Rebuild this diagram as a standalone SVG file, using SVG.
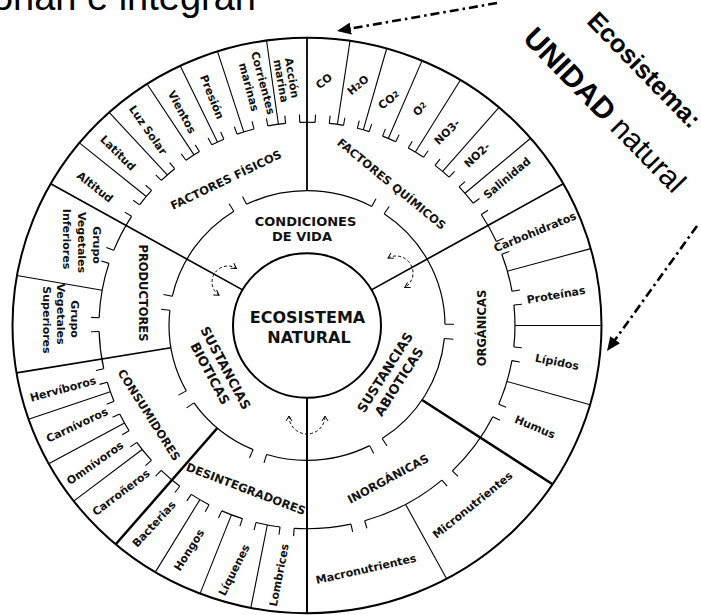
<svg xmlns="http://www.w3.org/2000/svg" width="701" height="615" viewBox="0 0 701 615">
<defs>
<style>
.t{font-family:"DejaVu Sans",Verdana,sans-serif;font-weight:bold;text-anchor:middle;fill:#111}
.i{font-size:11px}
.c{font-size:11.5px}
.s{font-size:13px}
.e{font-size:16px}
.big{font-family:"Liberation Sans",Arial,sans-serif;fill:#000}
.ring{fill:none;stroke:#000}
.dv line{stroke:#000}
.tk{stroke:#000;stroke-width:1.1}
.da{fill:none;stroke:#000;stroke-width:1;stroke-dasharray:3 2.2;marker-start:url(#ah);marker-end:url(#ah)}
.dd{fill:none;stroke:#000;stroke-width:2.6;stroke-dasharray:9 4 2.5 4;marker-end:url(#big)}
</style>
<marker id="ah" viewBox="0 0 8 8" refX="6" refY="4" markerWidth="8" markerHeight="8" markerUnits="userSpaceOnUse" orient="auto-start-reverse"><path d="M1,1 L6,4 L1,7" fill="none" stroke="#000" stroke-width="1"/></marker>
<marker id="big" viewBox="0 0 14 12" refX="2" refY="6" markerWidth="14" markerHeight="12" markerUnits="userSpaceOnUse" orient="auto"><path d="M0,0 L14,6 L0,12 Z" fill="#000"/></marker>
<line id="t1" y1="-138" y2="-147"/>
<line id="t2" y1="-208" y2="-216"/>
</defs>
<rect width="701" height="615" fill="#fff"/>

<g id="headline">
<text class="big" x="256" y="10" font-size="38" text-anchor="end">onan e integran</text>
<text class="big" font-size="25.5" font-weight="bold" text-anchor="middle" transform="translate(638,76) rotate(45.8)">Ecosistema:</text>
<text class="big" font-size="30" text-anchor="middle" transform="translate(597.5,117) rotate(45.7)"><tspan font-weight="bold">UNIDAD</tspan> natural</text>
</g>

<g id="wheel" transform="translate(307,325.5) scale(1,0.977)">
<circle class="ring" r="294.5" stroke-width="2"/>
<circle class="ring" r="138" stroke-width="1.2" pathLength="360" stroke-dasharray="28 6 55.5 6 51.5 6 44 6 32 6 35.5 6 45.5 6 26 6" transform="rotate(-90)"/>
<circle class="ring" r="208" stroke-width="1.2" pathLength="360" stroke-dasharray="6.05 3.9 12.85 3.9 18.95 3.9 24.35 3.9 15.75 3.9 6.75 3.9 6.1 3.9 5.7 3.9 6.8 3.9 6.5 3.9 5.4 3.9 5.7 3.9 10.6 3.9 15.6 3.9 10.8 3.9 5.25 3.9 4.95 3.9 4.45 3.9 3.7 3.9 4.9 3.9 4.95 3.9 4.25 3.9 3.95 3.9 3.4 3.9 3.95 3.9 4.95 3.9 5.1 3.9 6.0 3.9 8.65 3.9 10.85 3.9 5.8 3.9"/>
<g class="tk">
<use href="#t1" transform="rotate(28)"/><use href="#t1" transform="rotate(34)"/>
<use href="#t1" transform="rotate(89.5)"/><use href="#t1" transform="rotate(95.5)"/>
<use href="#t1" transform="rotate(147)"/><use href="#t1" transform="rotate(153)"/>
<use href="#t1" transform="rotate(197)"/><use href="#t1" transform="rotate(203)"/>
<use href="#t1" transform="rotate(235)"/><use href="#t1" transform="rotate(241)"/>
<use href="#t1" transform="rotate(276.5)"/><use href="#t1" transform="rotate(282.5)"/>
<use href="#t1" transform="rotate(328)"/><use href="#t1" transform="rotate(334)"/>
<use href="#t2" transform="rotate(96.05)"/><use href="#t2" transform="rotate(99.95)"/>
<use href="#t2" transform="rotate(112.8)"/><use href="#t2" transform="rotate(116.7)"/>
<use href="#t2" transform="rotate(135.65)"/><use href="#t2" transform="rotate(139.55)"/>
<use href="#t2" transform="rotate(163.9)"/><use href="#t2" transform="rotate(167.8)"/>
<use href="#t2" transform="rotate(183.55)"/><use href="#t2" transform="rotate(187.45)"/>
<use href="#t2" transform="rotate(194.2)"/><use href="#t2" transform="rotate(198.1)"/>
<use href="#t2" transform="rotate(204.2)"/><use href="#t2" transform="rotate(208.1)"/>
<use href="#t2" transform="rotate(213.8)"/><use href="#t2" transform="rotate(217.7)"/>
<use href="#t2" transform="rotate(224.5)"/><use href="#t2" transform="rotate(228.4)"/>
<use href="#t2" transform="rotate(234.9)"/><use href="#t2" transform="rotate(238.8)"/>
<use href="#t2" transform="rotate(244.2)"/><use href="#t2" transform="rotate(248.1)"/>
<use href="#t2" transform="rotate(253.8)"/><use href="#t2" transform="rotate(257.7)"/>
<use href="#t2" transform="rotate(268.3)"/><use href="#t2" transform="rotate(272.2)"/>
<use href="#t2" transform="rotate(287.8)"/><use href="#t2" transform="rotate(291.7)"/>
<use href="#t2" transform="rotate(302.5)"/><use href="#t2" transform="rotate(306.4)"/>
<use href="#t2" transform="rotate(311.65)"/><use href="#t2" transform="rotate(315.55)"/>
<use href="#t2" transform="rotate(320.5)"/><use href="#t2" transform="rotate(324.4)"/>
<use href="#t2" transform="rotate(328.85)"/><use href="#t2" transform="rotate(332.75)"/>
<use href="#t2" transform="rotate(336.45)"/><use href="#t2" transform="rotate(340.35)"/>
<use href="#t2" transform="rotate(345.25)"/><use href="#t2" transform="rotate(349.15)"/>
<use href="#t2" transform="rotate(354.1)"/><use href="#t2" transform="rotate(358)"/>
<use href="#t2" transform="rotate(2.25)"/><use href="#t2" transform="rotate(6.15)"/>
<use href="#t2" transform="rotate(10.1)"/><use href="#t2" transform="rotate(14)"/>
<use href="#t2" transform="rotate(17.4)"/><use href="#t2" transform="rotate(21.3)"/>
<use href="#t2" transform="rotate(25.25)"/><use href="#t2" transform="rotate(29.15)"/>
<use href="#t2" transform="rotate(34.1)"/><use href="#t2" transform="rotate(38)"/>
<use href="#t2" transform="rotate(43.1)"/><use href="#t2" transform="rotate(47)"/>
<use href="#t2" transform="rotate(53)"/><use href="#t2" transform="rotate(56.9)"/>
<use href="#t2" transform="rotate(65.55)"/><use href="#t2" transform="rotate(69.45)"/>
<use href="#t2" transform="rotate(80.3)"/><use href="#t2" transform="rotate(84.2)"/>
</g>
<g id="connectors" class="dv">
<line y1="-74" y2="-294.5" stroke-width="1.7" transform="rotate(60.5)"/>
<line y1="-74" y2="-294.5" stroke-width="2" transform="rotate(180)"/>
<line y1="-74" y2="-294.5" stroke-width="1.7" transform="rotate(299.5)"/>
<line y1="-138" y2="-294.5" stroke-width="1.8"/>
<line y1="-138" y2="-294.5" stroke-width="1.8" transform="rotate(260.5)"/>
<line y1="-138" y2="-294.5" stroke-width="2.5" transform="rotate(220.5)"/>
<line y1="-138" y2="-294.5" stroke-width="2.5" transform="rotate(123.5)"/>
<g stroke-width="1.1">
<line y1="-208" y2="-294.5" transform="rotate(309.4)"/>
<line y1="-208" y2="-294.5" transform="rotate(317.8)"/>
<line y1="-208" y2="-294.5" transform="rotate(327.1)"/>
<line y1="-208" y2="-294.5" transform="rotate(334.5)"/>
<line y1="-208" y2="-294.5" transform="rotate(342.3)"/>
<line y1="-208" y2="-294.5" transform="rotate(352.1)"/>
<line y1="-208" y2="-294.5" transform="rotate(8.4)"/>
<line y1="-208" y2="-294.5" transform="rotate(15.7)"/>
<line y1="-208" y2="-294.5" transform="rotate(23)"/>
<line y1="-208" y2="-294.5" transform="rotate(31.4)"/>
<line y1="-208" y2="-294.5" transform="rotate(40.7)"/>
<line y1="-208" y2="-294.5" transform="rotate(49.4)"/>
<line y1="-208" y2="-294.5" transform="rotate(74.5)"/>
<line y1="-208" y2="-294.5" transform="rotate(90)"/>
<line y1="-208" y2="-294.5" transform="rotate(106)"/>
<line y1="-208" y2="-294.5" transform="rotate(151.7)"/>
<line y1="-208" y2="-294.5" transform="rotate(191)"/>
<line y1="-208" y2="-294.5" transform="rotate(201.3)"/>
<line y1="-208" y2="-294.5" transform="rotate(211)"/>
<line y1="-208" y2="-294.5" transform="rotate(232.4)"/>
<line y1="-208" y2="-294.5" transform="rotate(241.3)"/>
<line y1="-208" y2="-294.5" transform="rotate(251)"/>
<line y1="-208" y2="-294.5" transform="rotate(280)"/>
</g>
</g>
<g id="centro"><circle class="ring" r="74" stroke-width="2"/></g>
</g>

<g id="ciclos">
<path class="da" d="M219.05,295.26 A16,16 0 0 1 236.48,268.43"/>
<path class="da" d="M388,258 A17,17 0 0 1 404.76,287.57"/>
<path class="da" d="M289,416 A18,18 0 1 0 325,416"/>
</g>

<g id="flechas">
<path class="dd" d="M497,3 L348.8,28.9"/>
<path class="dd" d="M697,226 L614,341.3"/>
</g>

<g id="ecosistema-natural">
<text class="t e" x="307.5" y="323.3">ECOSISTEMA</text>
<text class="t e" x="309" y="342.7">NATURAL</text>
</g>

<g id="condiciones-de-vida">
<text class="t s" x="305.5" y="226">CONDICIONES</text>
<text class="t s" x="302" y="240.5">DE VIDA</text>
</g>
<g id="sustancias-bioticas">
<text class="t s" dy=".35em" transform="translate(225.5,368) rotate(62)">SUSTANCIAS</text>
<text class="t s" dy=".35em" transform="translate(210,373.5) rotate(62)">BIOTICAS</text>
</g>
<g id="sustancias-abioticas">
<text class="t s" dy=".35em" transform="translate(385,372.5) rotate(-57.5)">SUSTANCIAS</text>
<text class="t s" dy=".35em" transform="translate(399,381.7) rotate(-57.5)">ABIOTICAS</text>
</g>

<g id="factores-fisicos">
<text class="t c" dy=".35em" transform="translate(226,180) rotate(-25.7)">FACTORES FÍSICOS</text>
<text class="t i" dy=".35em" transform="translate(95,187) rotate(38)">Altitud</text>
<text class="t i" dy=".35em" transform="translate(118,153) rotate(45)">Latitud</text>
<text class="t i" dy=".35em" transform="translate(148,130) rotate(55)">Luz Solar</text>
<text class="t i" dy=".35em" transform="translate(182,112) rotate(62)">Vientos</text>
<text class="t i" dy=".35em" transform="translate(212,97) rotate(68)">Presión</text>
<text class="t i" dy=".35em" transform="translate(263,83) rotate(75)">Corrientes</text>
<text class="t i" dy=".35em" transform="translate(249,87) rotate(75)">marinas</text>
<text class="t i" dy=".35em" transform="translate(292,78) rotate(80)">Acción</text>
<text class="t i" dy=".35em" transform="translate(281,81) rotate(80)">marina</text>
</g>

<g id="factores-quimicos">
<text class="t c" dy=".35em" transform="translate(391.5,184) rotate(39.4)">FACTORES QUÍMICOS</text>
<text class="t i" dy=".35em" transform="translate(324,81) rotate(-38)">CO</text>
<text class="t i" dy=".35em" transform="translate(358,85) rotate(-40)">H<tspan font-size="8">2</tspan>O</text>
<text class="t i" dy=".35em" transform="translate(389,100) rotate(-34)">CO<tspan font-size="8" dy="-2">2</tspan></text>
<text class="t i" dy=".35em" transform="translate(420,109) rotate(-41)">O<tspan font-size="8" dy="-2">2</tspan></text>
<text class="t i" dy=".35em" transform="translate(447,132) rotate(-45)">NO3-</text>
<text class="t i" dy=".35em" transform="translate(477,155) rotate(-43)">NO2-</text>
<text class="t i" dy=".35em" transform="translate(507,178) rotate(-40)">Salinidad</text>
</g>

<g id="organicas">
<text class="t c" dy=".35em" transform="translate(482,328) rotate(-90)">ORGÁNICAS</text>
<text class="t i" dy=".35em" transform="translate(535,232) rotate(-22.4)">Carbohidratos</text>
<text class="t i" dy=".35em" transform="translate(556,295) rotate(-9.8)">Proteínas</text>
<text class="t i" dy=".35em" transform="translate(557,362) rotate(11)">Lípidos</text>
<text class="t i" dy=".35em" transform="translate(535,427) rotate(22.6)">Humus</text>
</g>

<g id="inorganicas">
<text class="t c" dy=".35em" transform="translate(388,479) rotate(-28.4)">INORGÁNICAS</text>
<text class="t i" dy=".35em" transform="translate(472.5,505) rotate(-39)">Micronutrientes</text>
<text class="t i" dy=".35em" transform="translate(366,569) rotate(-12.7)">Macronutrientes</text>
</g>

<g id="desintegradores">
<text class="t c" dy=".35em" transform="translate(246,489) rotate(20.8)">DESINTEGRADORES</text>
<text class="t i" dy=".35em" transform="translate(154,524) rotate(-47.4)">Bacterias</text>
<text class="t i" dy=".35em" transform="translate(189,550) rotate(-58)">Hongos</text>
<text class="t i" dy=".35em" transform="translate(234,570) rotate(-63.4)">Líquenes</text>
<text class="t i" dy=".35em" transform="translate(279,575) rotate(-79)">Lombrices</text>
</g>

<g id="consumidores">
<text class="t c" dy=".35em" transform="translate(149,415) rotate(57.6)">CONSUMIDORES</text>
<text class="t i" dy=".35em" transform="translate(63,389) rotate(-15.3)">Hervíboros</text>
<text class="t i" dy=".35em" transform="translate(77,425) rotate(-25.4)">Carnívoros</text>
<text class="t i" dy=".35em" transform="translate(95,463) rotate(-35.2)">Omnívoros</text>
<text class="t i" dy=".35em" transform="translate(121,492.5) rotate(-37)">Carroñeros</text>
</g>

<g id="productores">
<text class="t c" dy=".35em" transform="translate(143,293) rotate(90)">PRODUCTORES</text>
<text class="t i" dy=".35em" transform="translate(97,245) rotate(90)">Grupo</text>
<text class="t i" dy=".35em" transform="translate(82,242.5) rotate(90)">Vegetales</text>
<text class="t i" dy=".35em" transform="translate(67,239) rotate(90)">Inferiores</text>
<text class="t i" dy=".35em" transform="translate(75,319) rotate(90)">Grupo</text>
<text class="t i" dy=".35em" transform="translate(61,314) rotate(90)">Vegetales</text>
<text class="t i" dy=".35em" transform="translate(47,320) rotate(90)">Superiores</text>
</g>
</svg>
